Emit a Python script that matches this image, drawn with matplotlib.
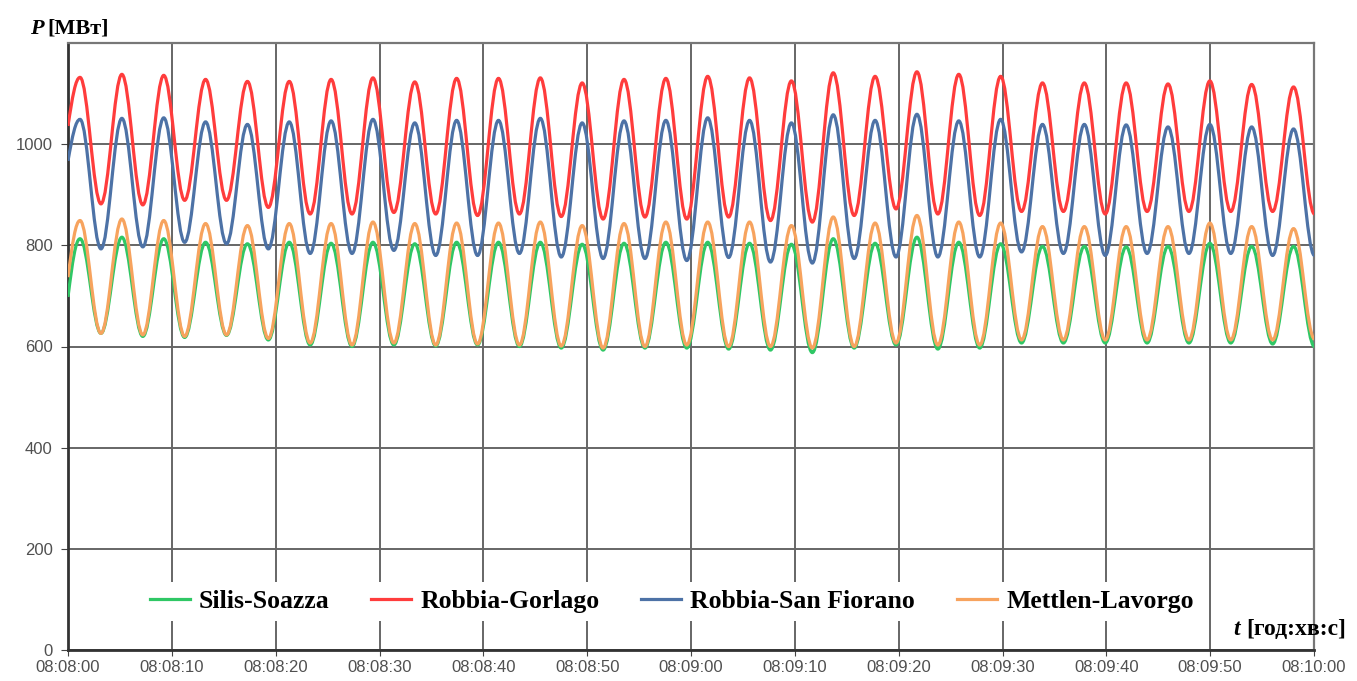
import numpy as np
import matplotlib.pyplot as plt
from matplotlib.path import Path
from matplotlib.patches import PathPatch
from matplotlib.lines import Line2D


# data ========================================================================
time_labels = ['08:08:00', '08:08:10', '08:08:20', '08:08:30', '08:08:40',
               '08:08:50', '08:09:00', '08:09:10', '08:09:20', '08:09:30',
               '08:09:40', '08:09:50', '08:10:00']
y_ticks = [0, 200, 400, 600, 800, 1000]

names = ['Silis-Soazza', 'Robbia-Gorlago', 'Robbia-San Fiorano', 'Mettlen-Lavorgo']
colors = ['#2fc765', '#ff3c3c', '#4d72a6', '#f7a35e']

first_peak = 1.16   # s, time of the first maximum
period = 4.03       # s, one swing

# value at 08:08:00
start_vals = [698, 1036, 967, 737]

# maxima / minima of each swing [MW]
green_peaks = [813, 816, 813, 806, 803, 806, 804, 806, 803, 806, 806, 806, 802, 804, 806,
               806, 804, 802, 813, 804, 816, 806, 803, 798, 798, 797, 798, 804, 798, 798]
green_troughs = [626, 620, 618, 622, 613, 603, 600, 603, 601, 603, 600, 597, 593, 597, 597,
                 595, 593, 588, 597, 603, 595, 597, 607, 607, 607, 607, 607, 607, 605, 600]
red_peaks = [1132, 1138, 1136, 1128, 1124, 1124, 1128, 1131, 1123, 1130, 1130, 1131, 1121, 1128, 1130,
             1134, 1131, 1125, 1141, 1134, 1143, 1138, 1134, 1121, 1121, 1121, 1119, 1125, 1118, 1113]
red_troughs = [882, 880, 889, 889, 875, 862, 862, 865, 862, 859, 862, 857, 852, 856, 852,
               856, 849, 846, 859, 872, 862, 859, 867, 867, 862, 867, 867, 867, 867, 862]
blue_peaks = [1049, 1051, 1052, 1044, 1039, 1044, 1046, 1049, 1042, 1047, 1047, 1051, 1042, 1046, 1047,
              1052, 1047, 1042, 1058, 1047, 1059, 1046, 1049, 1039, 1039, 1038, 1034, 1039, 1034, 1030]
blue_troughs = [793, 797, 806, 803, 793, 784, 784, 790, 780, 780, 784, 777, 774, 774, 770,
                776, 767, 765, 774, 777, 777, 777, 787, 784, 780, 784, 784, 784, 780, 780]
orange_peaks = [849, 852, 849, 843, 839, 843, 843, 846, 843, 844, 844, 846, 839, 843, 846,
                846, 846, 839, 856, 844, 859, 846, 844, 837, 837, 837, 837, 844, 837, 833]
orange_troughs = [626, 623, 620, 623, 616, 607, 603, 607, 603, 605, 603, 601, 597, 600, 603,
                  600, 600, 597, 600, 607, 603, 603, 613, 613, 613, 613, 613, 613, 613, 615]

series = [(green_peaks, green_troughs), (red_peaks, red_troughs),
          (blue_peaks, blue_troughs), (orange_peaks, orange_troughs)]


def wave_path(v0, peaks, troughs):
    # smooth curve through the read extremes (horizontal tangent at each extreme)
    tp = first_peak + period * np.arange(len(peaks))
    tt = tp + period / 2
    t = np.concatenate([[0], np.column_stack([tp, tt]).ravel()])
    v = np.concatenate([[v0], np.column_stack([peaks, troughs]).ravel()])
    verts = [(t[0], v[0])]
    codes = [Path.MOVETO]
    for i in range(1, len(t)):
        d = t[i] - t[i - 1]
        if i == 1:
            c1 = (t[0] + 0.364 * d, v[0] + 0.6 * (v[1] - v[0]))
        else:
            c1 = (t[i - 1] + 0.364 * d, v[i - 1])
        c2 = (t[i] - 0.364 * d, v[i])
        verts += [c1, c2, (t[i], v[i])]
        codes += [Path.CURVE4] * 3
    return Path(verts, codes)


fig = plt.figure(figsize=(13.57, 6.81), dpi=100)
ax = fig.add_axes([68 / 1357, 1 - 650 / 681, 1246 / 1357, 607 / 681])

for (pk, tr), v0, col in zip(series, start_vals, colors):
    ax.add_patch(PathPatch(wave_path(v0, pk, tr), fill=False, edgecolor=col,
                           lw=2.3, zorder=3))

ax.set_xlim(0, 120)
ax.set_ylim(0, 1200)
ax.set_xticks(np.arange(len(time_labels)) * 10)
ax.set_xticklabels(time_labels)
ax.set_yticks(y_ticks)
ax.grid(True, color='#666666', lw=1.4, zorder=0)
ax.set_axisbelow(True)

for s in ['top', 'right']:
    ax.spines[s].set_color('#777777')
    ax.spines[s].set_linewidth(1.6)
for s in ['left', 'bottom']:
    ax.spines[s].set_color('#333333')
    ax.spines[s].set_linewidth(2.0)

ax.tick_params(axis='both', labelsize=12, labelcolor='#505050', color='#444444',
               labelfontfamily='Liberation Sans')
ax.tick_params(axis='y', length=5, pad=6)
ax.tick_params(axis='x', length=4, pad=3)

handles = [Line2D([], [], color=c, lw=2.3) for c in colors]
leg = ax.legend(handles, names, ncol=4, loc='center', bbox_to_anchor=(0.4844, 0.08),
                prop=dict(family='Liberation Serif', weight='bold', size=18.5),
                frameon=True, fancybox=False, framealpha=1, borderpad=0.3,
                handlelength=1.56, handletextpad=0.35, columnspacing=1.63)
leg.get_frame().set_edgecolor('none')
leg.get_frame().set_facecolor('white')

# axis titles
fig.text(30 / 1357, 1 - 34 / 681, 'P', family='Liberation Serif', weight='bold',
         style='italic', size=16, va='baseline')
fig.text(47 / 1357, 1 - 34 / 681, '[МВт]', family='Liberation Serif', weight='bold',
         size=16, va='baseline')
fig.text(1233 / 1357, 1 - 635 / 681, 't', family='Liberation Serif', weight='bold',
         style='italic', size=17, va='baseline')
fig.text(1246 / 1357, 1 - 635 / 681, '[год:хв:с]', family='Liberation Serif',
         weight='bold', size=17, va='baseline')

plt.savefig('out.png', dpi=100)
